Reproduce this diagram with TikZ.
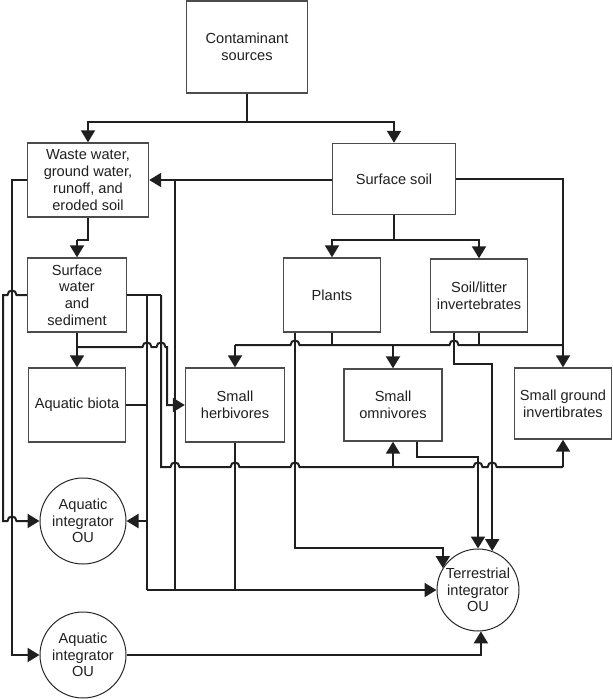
\documentclass[tikz,border=0pt]{standalone}
\usepackage{fontspec}
\setmainfont{Liberation Sans}
\usetikzlibrary{arrows.meta}
\begin{document}
\begin{tikzpicture}[x=1pt,y=-1pt,
  box/.style={draw=black!70,line width=1.4pt,inner sep=0pt,align=center,text=black!88},
  circ/.style={draw=black!85,line width=1pt,circle,inner sep=0pt,align=center,text=black!88},
  conn/.style={draw=black!88,line width=2pt},
  arr/.style={conn,-{Triangle[length=12pt,width=14pt]}},
  font=\fontsize{14.6}{16.7}\selectfont]
\useasboundingbox (0,0) rectangle (613,699);

% nodes
\node[box,minimum width=121pt,minimum height=92pt] (cs) at (247,47) {Contaminant\\sources};
\node[box,minimum width=121pt,minimum height=74pt] (ww) at (88,180) {Waste water,\\ground water,\\runoff, and\\eroded soil};
\node[box,minimum width=123pt,minimum height=71pt] (ss) at (394,179) {Surface soil};
\node[box,minimum width=99pt,minimum height=74pt] (sw) at (77,295) {Surface\\water\\and\\sediment};
\node[box,minimum width=97pt,minimum height=74pt] (pl) at (332,295) {Plants};
\node[box,minimum width=97pt,minimum height=73pt] (sl) at (479,295.5) {Soil/litter\\invertebrates};
\node[box,minimum width=97pt,minimum height=74pt] (ab) at (77,405) {Aquatic biota};
\node[box,minimum width=99pt,minimum height=74pt] (sh) at (235,405) {Small\\herbivores};
\node[box,minimum width=98pt,minimum height=72pt] (so) at (393,405) {Small\\omnivores};
\node[box,minimum width=97pt,minimum height=71pt] (sg) at (563,403.5) {Small ground\\invertibrates};
\node[circ,minimum size=86pt] (ai1) at (83,521) {Aquatic\\integrator\\OU};
\node[circ,minimum size=86pt] (ai2) at (83,655) {Aquatic\\integrator\\OU};
\node[circ,minimum size=82pt] (ti) at (478,590) {Terrestrial\\integrator\\OU};

% routing rows and columns
\coordinate (r122) at (0,122);
\coordinate (r240) at (0,240);
\coordinate (r345) at (0,345);
\coordinate (r347) at (0,347);
\coordinate (r364) at (0,364);
\coordinate (r457) at (0,457);
\coordinate (r467) at (0,467);
\coordinate (r548) at (0,548);
\coordinate (c2) at (3,0);
\coordinate (c12) at (12,0);
\coordinate (c147) at (147,0);
\coordinate (c161) at (161,0);
\coordinate (c167) at (167,0);
\coordinate (c175) at (175,0);
\coordinate (c295) at (295,0);
\coordinate (c417) at (417,0);
\coordinate (c454) at (454,0);

% contaminant sources
\draw[conn] (cs.south) -- (cs.south |- r122);
\draw[arr] (cs.south |- r122) -| (ww.north);
\draw[arr] (cs.south |- r122) -| (ss.north);

% surface soil
\draw[arr] (ss.west |- ww.east) -- (ww.east);
\draw[conn] (c175 |- ww.east) -- (c175 |- ti.west);
\draw[arr] (ss.east) -| (sg.north);
\draw[conn] (ss.south) -- (ss.south |- r240);
\draw[arr] (ss.south |- r240) -| (pl.north);
\draw[arr] (ss.south |- r240) -| (sl.north);

% plants / soil litter bus
\draw[conn] (pl.south) -- (pl.south |- r345);
\draw[conn] (sl.south) -- (sl.south |- r345);
\draw[conn] (sh.north |- r345) -- (290.5,345) .. controls (290.5,339) and (299.5,339) .. (299.5,345)
  -- (449.5,345) .. controls (449.5,339) and (458.5,339) .. (458.5,345) -- (sg.north |- r345);
\draw[arr] (sh.north |- r345) -- (sh.north);
\draw[arr] (so.north |- r345) -- (so.north);

% to terrestrial integrator from plants, soil/litter, omnivores
\draw[arr] (pl.south -| c295) -- (c295 |- r548) -- (ti.148 |- r548) -- (ti.148);
\draw[arr] (sl.south -| c454) -- (c454 |- r364) -- (ti.70 |- r364) -- (ti.70);
\draw[arr] (so.south -| c417) -- (c417 |- r457) -- (ti.north |- r457) -- (ti.north);

% waste water
\draw[conn] (ww.south) -- (ww.south |- r240) -- (sw.north |- r240);
\draw[arr] (sw.north |- r240) -- (sw.north);
\draw[arr] (ww.west) -- (c12 |- ww.west) -- (c12 |- ai2.west) -- (ai2.west);

% surface water left
\draw[arr] (sw.west) -- (16.5,295) .. controls (16.5,289) and (7.5,289) .. (7.5,295) -- (c2 |- sw.west)
  -- (c2 |- ai1.west) -- (7.5,521) .. controls (7.5,515) and (16.5,515) .. (16.5,521) -- (ai1.west);

% surface water right
\draw[conn] (sw.east) -- (c161 |- sw.east);
\draw[conn] (c147 |- sw.east) -- (c147 |- ti.west);
\draw[arr] (c147 |- ai1.east) -- (ai1.east);
\draw[conn] (ab.east) -- (c147 |- ab.east);
\draw[conn] (c161 |- sw.east) -- (c161 |- r467) -- (170.5,467) .. controls (170.5,461) and (179.5,461) .. (179.5,467)
  -- (230.5,467) .. controls (230.5,461) and (239.5,461) .. (239.5,467)
  -- (290.5,467) .. controls (290.5,461) and (299.5,461) .. (299.5,467)
  -- (473.5,467) .. controls (473.5,461) and (482.5,461) .. (482.5,467)
  -- (487.7,467) .. controls (487.7,461) and (496.7,461) .. (496.7,467)
  -- (sg.south |- r467);
\draw[arr] (so.south |- r467) -- (so.south);
\draw[arr] (sg.south |- r467) -- (sg.south);

% surface water bottom
\draw[arr] (sw.south) -- (ab.north);
\draw[arr] (sw.south |- r347) -- (142.5,347) .. controls (142.5,341) and (151.5,341) .. (151.5,347)
  -- (156.5,347) .. controls (156.5,341) and (165.5,341) .. (165.5,347)
  -- (c167 |- r347) -- (c167 |- sh.west) -- (sh.west);

% herbivores and row to terrestrial
\draw[conn] (sh.south) -- (sh.south |- ti.west);
\draw[arr] (c147 |- ti.west) -- (ti.west);

% lower aquatic integrator
\draw[arr] (ai2.east) -- (ti.-86 |- ai2.east) -- (ti.-86);
\end{tikzpicture}
\end{document}
